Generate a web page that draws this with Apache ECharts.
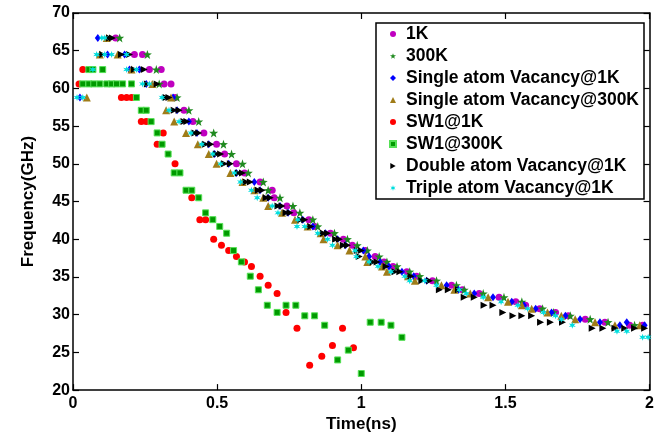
<!DOCTYPE html>
<html>
<head>
<meta charset="utf-8">
<script src="https://cdn.jsdelivr.net/npm/echarts@6/dist/echarts.min.js"></script>
<style>
  html, body { margin: 0; padding: 0; background: #fff; }
  #chart { width: 657px; height: 438px; }
</style>
</head>
<body>
<div id="chart"></div>
<script>
// time (ns), frequency (GHz)
const oneK = [[0.148,66.7],[0.213,64.5],[0.241,64.5],[0.265,62.5],[0.306,62.5],[0.316,60.6],[0.340,60.6],[0.354,58.8],[0.385,57.1],[0.416,55.6],[0.454,54.1],[0.498,52.6],[0.526,51.3],[0.567,50.0],[0.595,48.8],[0.649,47.6],[0.691,46.5],[0.698,45.5],[0.742,44.4],[0.766,43.5],[0.818,42.6],[0.838,41.7],[0.893,40.8],[0.938,40.0],[0.969,39.2],[1.014,38.5],[1.048,37.7],[1.079,37.0],[1.110,36.4],[1.158,35.7],[1.192,35.1],[1.247,34.5],[1.313,33.9],[1.351,33.3],[1.409,32.8],[1.478,32.3],[1.536,31.7],[1.570,31.25],[1.619,30.8],[1.674,30.3],[1.718,29.85],[1.777,29.4],[1.845,29.0],[1.931,28.6],[1.976,28.6]];

const k300 = [[0.162,66.7],[0.258,64.5],[0.289,62.5],[0.299,60.6],[0.361,58.8],[0.402,57.1],[0.436,55.6],[0.488,54.1],[0.522,52.6],[0.550,51.3],[0.588,50.0],[0.608,48.8],[0.660,47.6],[0.677,46.5],[0.718,45.5],[0.763,44.4],[0.787,43.5],[0.832,42.6],[0.849,41.7],[0.907,40.8],[0.952,40.0],[0.986,39.2],[1.021,38.5],[1.062,37.7],[1.089,37.0],[1.124,36.4],[1.168,35.7],[1.203,35.1],[1.261,34.5],[1.330,33.9],[1.357,33.3],[1.423,32.8],[1.495,32.3],[1.557,31.7],[1.629,30.8],[1.667,30.3],[1.725,29.85],[1.794,29.4],[1.856,29.0],[1.948,28.6]];

const svac1K = [[0.086,66.7],[0.120,64.5],[0.179,64.5],[0.196,62.5],[0.230,62.5],[0.254,60.6],[0.024,58.8],[0.347,58.8],[0.361,57.1],[0.402,55.6],[0.430,54.1],[0.471,52.6],[0.491,51.3],[0.540,50.0],[0.567,48.8],[0.629,47.6],[0.649,46.5],[0.677,45.5],[0.718,44.4],[0.746,43.5],[0.797,42.6],[0.832,41.7],[0.876,40.8],[0.918,40.0],[0.945,39.2],[1.007,38.5],[1.027,37.7],[1.065,37.0],[1.096,36.4],[1.141,35.7],[1.182,35.1],[1.227,34.5],[1.296,33.9],[1.337,33.3],[1.392,32.8],[1.457,32.3],[1.522,31.7],[1.564,31.25],[1.605,30.8],[1.660,30.3],[1.708,29.85],[1.759,29.4],[1.828,29.0],[1.921,29.0],[1.897,28.6],[1.983,28.6]];

const svac300K = [[0.117,66.7],[0.093,64.5],[0.155,64.5],[0.203,62.5],[0.275,60.6],[0.048,58.8],[0.340,58.8],[0.323,57.1],[0.351,55.6],[0.392,54.1],[0.433,52.6],[0.471,51.3],[0.498,50.0],[0.546,48.8],[0.588,47.6],[0.629,46.5],[0.660,45.5],[0.677,44.4],[0.725,43.5],[0.770,42.6],[0.814,41.7],[0.859,40.8],[0.869,40.0],[0.918,39.2],[0.959,38.5],[1.014,37.7],[1.021,37.0],[1.072,36.4],[1.089,35.7],[1.162,35.1],[1.186,34.5],[1.278,33.9],[1.323,33.3],[1.378,32.8],[1.440,32.3],[1.509,31.7],[1.557,31.25],[1.591,30.8],[1.646,30.3],[1.694,29.85],[1.742,29.4],[1.811,29.0],[1.880,28.6],[1.966,28.6]];

const sw1At1K = [[0.034,62.5],[0.021,60.6],[0.168,58.8],[0.186,58.8],[0.203,58.8],[0.237,55.6],[0.254,55.6],[0.313,54.1],[0.292,52.6],[0.354,50.0],[0.412,45.5],[0.440,42.6],[0.460,42.6],[0.488,40.0],[0.515,39.2],[0.540,38.5],[0.567,37.7],[0.595,37.0],[0.619,36.4],[0.649,35.1],[0.677,33.9],[0.708,32.8],[0.739,30.3],[0.777,28.2],[0.935,28.2],[0.900,25.9],[0.973,25.6],[0.863,24.5],[0.821,23.3]];

const sw1At300K = [[0.055,62.5],[0.069,62.5],[0.103,62.5],[0.034,60.6],[0.055,60.6],[0.072,60.6],[0.093,60.6],[0.117,60.6],[0.134,60.6],[0.151,60.6],[0.172,60.6],[0.203,60.6],[0.220,58.8],[0.237,57.1],[0.254,57.1],[0.271,55.6],[0.292,54.1],[0.309,52.6],[0.330,51.3],[0.351,48.8],[0.371,48.8],[0.392,46.5],[0.412,46.5],[0.436,45.5],[0.460,43.5],[0.485,42.6],[0.509,41.7],[0.533,40.8],[0.557,38.5],[0.584,37.0],[0.615,35.1],[0.643,33.3],[0.674,31.25],[0.739,31.25],[0.773,31.25],[0.708,30.3],[0.804,29.85],[0.838,29.85],[0.873,28.6],[0.955,25.3],[0.918,24.0],[1.000,22.2],[1.031,29.0],[1.069,29.0],[1.103,28.6],[1.141,27.0]];

const dvac1K = [[0.127,66.7],[0.137,66.7],[0.103,64.5],[0.168,64.5],[0.196,64.5],[0.213,62.5],[0.247,62.5],[0.258,60.6],[0.292,60.6],[0.323,58.8],[0.333,58.8],[0.351,57.1],[0.368,57.1],[0.385,55.6],[0.395,55.6],[0.423,54.1],[0.436,54.1],[0.460,52.6],[0.478,52.6],[0.498,51.3],[0.512,51.3],[0.526,50.0],[0.546,50.0],[0.574,48.8],[0.588,48.8],[0.601,47.6],[0.615,47.6],[0.643,46.5],[0.656,46.5],[0.670,45.5],[0.684,45.5],[0.711,44.4],[0.725,44.4],[0.739,43.5],[0.753,43.5],[0.790,42.6],[0.804,42.6],[0.825,41.7],[0.869,40.8],[0.883,40.8],[0.911,40.0],[0.924,40.0],[0.938,39.2],[0.952,39.2],[0.986,38.5],[1.000,38.5],[0.993,37.7],[1.041,37.0],[1.055,37.0],[1.086,36.4],[1.117,35.7],[1.134,35.7],[1.172,35.1],[1.210,34.5],[1.237,34.5],[1.271,33.3],[1.302,33.3],[1.337,33.3],[1.357,32.3],[1.392,32.3],[1.426,31.25],[1.457,31.25],[1.491,30.3],[1.526,29.85],[1.557,29.85],[1.591,29.85],[1.622,29.0],[1.656,29.0],[1.698,29.0],[1.801,28.2],[1.838,28.2],[1.880,28.2],[1.914,28.2],[1.948,28.2],[1.983,28.2]];

const tvac1K = [[0.100,66.7],[0.110,66.7],[0.082,64.5],[0.110,64.5],[0.134,64.5],[0.186,64.5],[0.069,62.5],[0.186,62.5],[0.220,62.5],[0.241,60.6],[0.265,60.6],[0.014,58.8],[0.034,58.8],[0.309,58.8],[0.333,57.1],[0.368,55.6],[0.409,54.1],[0.447,52.6],[0.485,51.3],[0.512,50.0],[0.560,48.8],[0.581,47.6],[0.619,46.5],[0.639,45.5],[0.691,44.4],[0.711,43.5],[0.780,42.6],[0.777,41.7],[0.804,41.7],[0.849,40.8],[0.883,40.0],[0.900,39.2],[0.979,38.5],[0.983,37.7],[1.027,37.0],[1.058,36.4],[1.103,35.7],[1.151,35.1],[1.168,34.5],[1.220,34.5],[1.261,33.9],[1.340,33.3],[1.364,32.8],[1.423,32.3],[1.485,31.7],[1.543,31.25],[1.577,30.8],[1.632,30.3],[1.674,29.85],[1.694,29.4],[1.732,28.6],[1.887,27.8],[1.921,27.8],[1.976,27.0],[1.995,27.0]];

const seriesNames = ['1K', '300K', 'Single atom Vacancy@1K', 'Single atom Vacancy@300K', 'SW1@1K', 'SW1@300K', 'Double atom Vacancy@1K', 'Triple atom Vacancy@1K'];

const FONT = '"Liberation Sans", Arial, sans-serif';
const star5 = 'path://M0,-10 L2.35,-3.24 L9.51,-3.09 L3.8,1.24 L5.88,8.09 L0,4 L-5.88,8.09 L-3.8,1.24 L-9.51,-3.09 L-2.35,-3.24 Z';
const star6 = 'path://M0,-10 L2,-3.46 L8.66,-5 L4,0 L8.66,5 L2,3.46 L0,10 L-2,3.46 L-8.66,5 L-4,0 L-8.66,-5 L-2,-3.46 Z';
const triRight = 'path://M0,0 L9,5 L0,10 Z';

function makeSeries(name, data, symbol, size, color, extra) {
  return Object.assign({
    name: name,
    type: 'scatter',
    data: data,
    symbol: symbol,
    symbolSize: size,
    itemStyle: { color: color, opacity: 1 },
    emphasis: { disabled: true },
    animation: false
  }, extra || {});
}

const chart = echarts.init(document.getElementById('chart'));

chart.setOption({
  backgroundColor: '#fff',
  animation: false,
  grid: { left: 73, right: 2, top: 13, bottom: 45, containLabel: false },
  legend: {
    orient: 'vertical',
    left: 376,
    top: 23,
    data: seriesNames,
    backgroundColor: '#fff',
    borderColor: '#000',
    borderWidth: 1.5,
    borderRadius: 0,
    padding: [0, 5, 0, 13],
    itemGap: 0,
    itemWidth: 6,
    itemHeight: 6,
    textStyle: { fontFamily: FONT, fontWeight: 'bold', fontSize: 17.5, color: '#000', lineHeight: 22, padding: [0, 0, 0, 5] }
  },
  xAxis: [{
    type: 'value', min: 0, max: 2, interval: 0.5,
    name: 'Time(ns)', nameLocation: 'middle', nameGap: 24,
    nameTextStyle: { fontFamily: FONT, fontWeight: 'bold', fontSize: 17, color: '#000' },
    axisLine: { onZero: false, lineStyle: { color: '#000', width: 1.5 } },
    axisTick: { inside: true, length: 6, lineStyle: { color: '#000', width: 1.2 } },
    axisLabel: { fontFamily: FONT, fontWeight: 'bold', fontSize: 16, color: '#000', margin: 5 },
    splitLine: { show: false }
  }, {
    type: 'value', position: 'top', min: 0, max: 2, interval: 0.5,
    axisLine: { onZero: false, lineStyle: { color: '#000', width: 1.5 } },
    axisTick: { inside: true, length: 6, lineStyle: { color: '#000', width: 1.2 } },
    axisLabel: { show: false },
    splitLine: { show: false }
  }],
  yAxis: [{
    type: 'value', min: 20, max: 70, interval: 5,
    name: 'Frequency(GHz)', nameLocation: 'middle', nameGap: 36,
    nameTextStyle: { fontFamily: FONT, fontWeight: 'bold', fontSize: 17, color: '#000' },
    axisLine: { show: true, onZero: false, lineStyle: { color: '#000', width: 1.5 } },
    axisTick: { show: true, inside: true, length: 6, lineStyle: { color: '#000', width: 1.2 } },
    axisLabel: { fontFamily: FONT, fontWeight: 'bold', fontSize: 16, color: '#000', margin: 3 },
    splitLine: { show: false }
  }, {
    type: 'value', position: 'right', min: 20, max: 70, interval: 5,
    axisLine: { show: true, onZero: false, lineStyle: { color: '#000', width: 1.5 } },
    axisTick: { show: true, inside: true, length: 6, lineStyle: { color: '#000', width: 1.2 } },
    axisLabel: { show: false },
    splitLine: { show: false }
  }],
  series: [
    makeSeries(seriesNames[0], oneK, 'circle', 7, '#c000c0'),
    makeSeries(seriesNames[1], k300, star5, 9, '#1f8a1f'),
    makeSeries(seriesNames[2], svac1K, 'diamond', [6, 8], '#0000ff'),
    makeSeries(seriesNames[3], svac300K, 'triangle', 8, '#a07c18'),
    makeSeries(seriesNames[4], sw1At1K, 'circle', 7, '#ff0000'),
    makeSeries(seriesNames[5], sw1At300K, 'rect', 6, '#009a00', { itemStyle: { color: '#009a00', borderColor: '#55e055', borderWidth: 1, opacity: 1 } }),
    makeSeries(seriesNames[6], dvac1K, triRight, 7, '#000000'),
    makeSeries(seriesNames[7], tvac1K, star6, 7, '#00dede')
  ]
});
</script>
</body>
</html>
